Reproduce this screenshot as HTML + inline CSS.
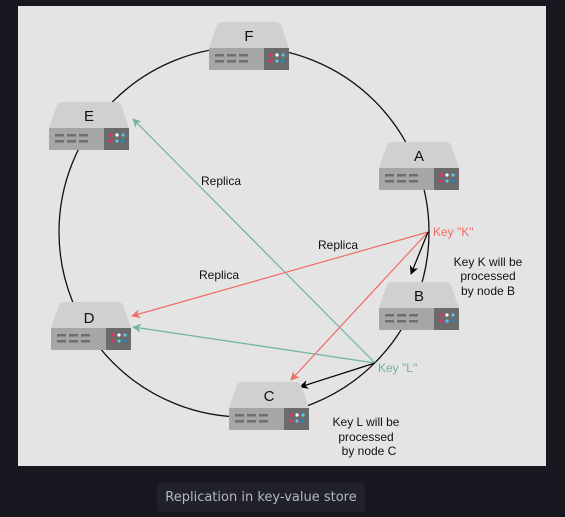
<!DOCTYPE html>
<html><head><meta charset="utf-8"><style>
html,body{margin:0;padding:0;background:#17181f;width:565px;height:517px;overflow:hidden}
svg{position:absolute;left:0;top:0}
.cap{position:absolute;left:157px;top:483px;width:208px;height:29px;background:#202129;border-radius:4px;color:#b4b8c2;font:13px "DejaVu Sans","Liberation Sans",sans-serif;text-align:center;line-height:29px}
text{font-family:"Liberation Sans",sans-serif}
</style></head><body>
<svg width="565" height="517" viewBox="0 0 565 517">
<defs>
<g id="srv">
<path d="M12 0 H67 Q70 0 72 3 L80 26 H0 L8 3 Q10 0 12 0Z" fill="#d0d0d1"/>
<rect x="0" y="26" width="80" height="22" rx="1" fill="#a6a6a6"/>
<rect x="55" y="26" width="25" height="22" fill="#6b6b6b"/>
<g fill="#6e6e6e">
<rect x="6" y="32" width="9" height="2.5"/><rect x="18" y="32" width="9" height="2.5"/><rect x="30" y="32" width="9" height="2.5"/>
<rect x="6" y="38" width="9" height="2.5"/><rect x="18" y="38" width="9" height="2.5"/><rect x="30" y="38" width="9" height="2.5"/>
</g>
<circle cx="62" cy="33" r="1.6" fill="#ee2f6b"/><circle cx="68" cy="33" r="1.6" fill="#fff"/><circle cx="74" cy="33" r="1.6" fill="#5cc6ea"/>
<circle cx="62" cy="39" r="1.6" fill="#ee2f6b"/><circle cx="68" cy="39" r="1.6" fill="#5cc6ea"/><circle cx="74" cy="39" r="1.6" fill="#1a88c9"/>
</g>
<marker id="ar" viewBox="0 0 10 10" refX="9" refY="5" markerWidth="9" markerHeight="9" orient="auto" markerUnits="userSpaceOnUse"><path d="M0 0 L10 5 L0 10 L3 5Z" fill="#f26b66"/></marker>
<marker id="ag" viewBox="0 0 10 10" refX="9" refY="5" markerWidth="9" markerHeight="9" orient="auto" markerUnits="userSpaceOnUse"><path d="M0 0 L10 5 L0 10 L3 5Z" fill="#6fb3a2"/></marker>
<marker id="ab" viewBox="0 0 10 10" refX="9" refY="5" markerWidth="9" markerHeight="9" orient="auto" markerUnits="userSpaceOnUse"><path d="M0 0 L10 5 L0 10 L3 5Z" fill="#000"/></marker>
</defs>
<rect x="18" y="6" width="528" height="460" fill="#e4e4e4"/>
<circle cx="244" cy="232" r="185" fill="none" stroke="#111" stroke-width="1.3"/>
<line x1="375" y1="363" x2="133" y2="119" stroke="#6fb3a2" stroke-width="1.2" marker-end="url(#ag)"/>
<line x1="375" y1="363" x2="133" y2="327" stroke="#6fb3a2" stroke-width="1.2" marker-end="url(#ag)"/>
<line x1="428" y1="232" x2="132" y2="316" stroke="#f26b66" stroke-width="1.2" marker-end="url(#ar)"/>
<line x1="428" y1="232" x2="291" y2="380" stroke="#f26b66" stroke-width="1.2" marker-end="url(#ar)"/>
<line x1="428" y1="232" x2="411" y2="274" stroke="#000" stroke-width="1.2" marker-end="url(#ab)"/>
<line x1="375" y1="363" x2="300" y2="387" stroke="#000" stroke-width="1.2" marker-end="url(#ab)"/>
<use href="#srv" x="209" y="22"/><use href="#srv" x="49" y="102"/><use href="#srv" x="379" y="142"/>
<use href="#srv" x="379" y="282"/><use href="#srv" x="51" y="302"/><use href="#srv" x="229" y="382"/>
<g font-size="15" fill="#111" text-anchor="middle">
<text x="249" y="41">F</text><text x="89" y="121">E</text><text x="419" y="161">A</text>
<text x="419" y="301">B</text><text x="89" y="323">D</text><text x="269" y="401">C</text>
</g>
<g font-size="12" fill="#111">
<text x="201" y="185">Replica</text><text x="318" y="249">Replica</text><text x="199" y="279">Replica</text>
</g>
<text x="433" y="236" font-size="12" fill="#f26b66">Key "K"</text>
<text x="378" y="372" font-size="12" fill="#6fb3a2">Key "L"</text>
<g font-size="12" fill="#111" text-anchor="middle">
<text x="488" y="266">Key K will be</text><text x="488" y="280">processed</text><text x="488" y="295">by node B</text>
<text x="366" y="426">Key L will be</text><text x="366" y="441">processed</text><text x="369" y="455">by node C</text>
</g>
</svg>
<div class="cap">Replication in key-value store</div>
</body></html>
